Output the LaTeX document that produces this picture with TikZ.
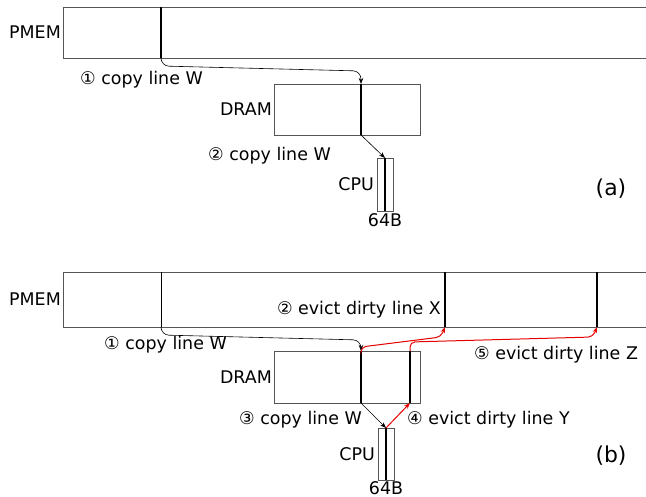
\documentclass[tikz,border=0pt]{standalone}
\usepackage{fontspec}
\setmainfont{DejaVu Sans}
\usetikzlibrary{positioning,arrows.meta}
\definecolor{BoxGray}{HTML}{555555}
\definecolor{EvictRed}{HTML}{E50000}

\begin{document}
\begin{tikzpicture}[x=1bp,y=-1bp,>={Stealth[length=6bp,width=4.5bp]},node distance=1bp,
  mem/.style={draw=BoxGray,line width=0.7bp,inner sep=0pt,outer sep=0pt,anchor=north west},
  lbl/.style={font=\fontsize{17.5}{20}\selectfont,inner sep=1bp},
  tag/.style={font=\fontsize{22}{26}\selectfont,inner sep=0pt},
  wline/.style={line width=1.3bp},
  copyarrow/.style={->,line width=0.6bp,rounded corners=8bp},
  evictarrow/.style={->,EvictRed,line width=1bp,rounded corners=5bp}]
  \useasboundingbox (0,0) rectangle (646,497);

  % (a) copy only
  \node[mem,minimum width=590bp,minimum height=51bp] (pmemA) at (63,7) {};
  \node[mem,minimum width=146bp,minimum height=51bp] (dramA) at (274,84) {};
  \node[mem,minimum width=16bp,minimum height=53bp] (cpuA) at (377,158) {};
  \node[lbl,left=of pmemA.west] (pmemAname) {PMEM};
  \node[lbl,left=of dramA.west] (dramAname) {DRAM};
  \node[lbl,left=2bp of cpuA.west] (cpuAname) {CPU};
  \node[lbl,below=1bp of cpuA.south] (cpuAsize) {64B};
  \coordinate (wPa) at (161,7);   \coordinate (wPb) at (161,58);
  \coordinate (wDa) at (361,84);  \coordinate (wDb) at (361,135);
  \coordinate (wCa) at (385,158); \coordinate (wCb) at (385,211);
  \draw[wline] (wPa) -- (wPb);
  \draw[wline] (wDa) -- (wDb);
  \draw[wline] (wCa) -- (wCb);
  \draw[copyarrow] (wPb) -- (161,66) -- (361,71) -- (wDa);
  \draw[copyarrow] (wDb) -- (wCa);
  \node[lbl,anchor=west] (copyA1) at (79,80) {① copy line W};
  \node[lbl,anchor=west] (copyA2) at (207,156) {② copy line W};
  \node[tag] (tagA) at (611,189) {(a)};

  % (b) copy with evictions
  \node[mem,minimum width=590bp,minimum height=55bp] (pmemB) at (63,272) {};
  \node[mem,minimum width=146bp,minimum height=52bp] (dramB) at (274,351) {};
  \node[mem,minimum width=16bp,minimum height=52bp] (cpuB) at (378,428) {};
  \node[lbl,left=of pmemB.west] (pmemBname) {PMEM};
  \node[lbl,left=of dramB.west] (dramBname) {DRAM};
  \node[lbl,left=2bp of cpuB.west] (cpuBname) {CPU};
  \node[lbl,below=0bp of cpuB.south] (cpuBsize) {64B};
  \coordinate (wPc) at (161,272); \coordinate (wPd) at (161,327);
  \coordinate (xPa) at (445,272); \coordinate (xPb) at (445,327);
  \coordinate (zPa) at (597,272); \coordinate (zPb) at (597,327);
  \coordinate (wDc) at (361,351); \coordinate (wDd) at (361,403);
  \coordinate (yDa) at (410,351); \coordinate (yDb) at (410,403);
  \coordinate (wCc) at (386,428); \coordinate (wCd) at (386,480);
  \draw[line width=0.8bp] (wPc) -- (wPd);
  \draw[wline] (xPa) -- (xPb);
  \draw[wline] (zPa) -- (zPb);
  \draw[wline] (wDc) -- (wDd);
  \draw[wline] (yDa) -- (yDb);
  \draw[wline] (wCc) -- (wCd);
  \draw[copyarrow] (wPd) -- (161,335) -- (361,340) -- (wDc);
  \draw[evictarrow] (wDc) -- (361,347) -- (441,337) -- (xPb);
  \draw[copyarrow] (wDd) -- (wCc);
  \draw[evictarrow,rounded corners=0pt] (wCc) -- (yDb);
  \draw[evictarrow] (yDa) -- (410,342) -- (593,337) -- (zPb);
  \node[lbl,anchor=west] (copyB1) at (103,345) {① copy line W};
  \node[lbl,anchor=east] (evictX) at (442,310) {② evict dirty line X};
  \node[lbl,anchor=east] (copyB3) at (363,420) {③ copy line W};
  \node[lbl,anchor=west] (evictY) at (406,420) {④ evict dirty line Y};
  \node[lbl,anchor=west] (evictZ) at (473,355) {⑤ evict dirty line Z};
  \node[tag] (tagB) at (611,456) {(b)};
\end{tikzpicture}
\end{document}
